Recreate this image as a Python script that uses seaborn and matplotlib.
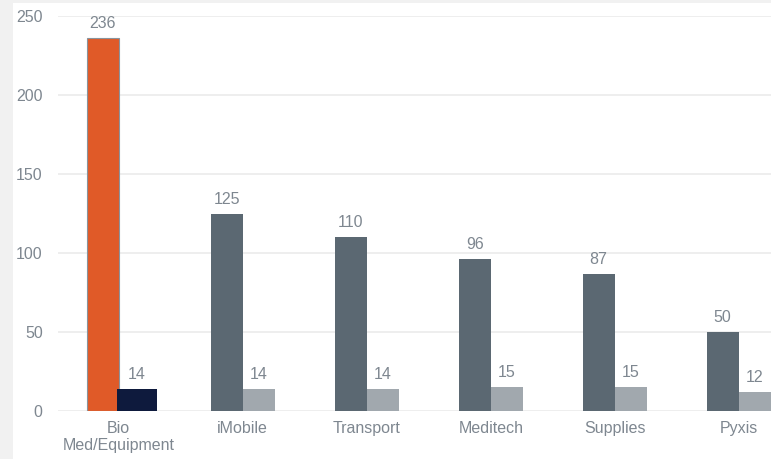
import matplotlib
matplotlib.use("Agg")
import matplotlib.pyplot as plt
import seaborn as sns
import pandas as pd
from matplotlib.patches import Rectangle

categories = ["Bio\nMed/Equipment", "iMobile", "Transport", "Meditech", "Supplies", "Pyxis"]
series_a = [236, 125, 110, 96, 87, 50]
series_b = [14, 14, 14, 15, 15, 12]
y_ticks = [0, 50, 100, 150, 200, 250]

dark = "#5b6872"
light = "#a1a8ae"
orange = "#e05a28"
navy = "#0e1a3d"
txt = "#7e8790"

df = pd.DataFrame({
    "cat": categories * 2,
    "value": series_a + series_b,
    "series": ["A"] * len(categories) + ["B"] * len(categories),
})

sns.set_theme(style="white")
plt.rcParams["font.family"] = ["Liberation Sans", "DejaVu Sans"]

fig = plt.figure(figsize=(7.71, 4.59), dpi=100)
fig.patch.set_facecolor("#f1f1f1")
fig.patches.append(Rectangle((13 / 771, 0), 1, 1 - 3 / 459, transform=fig.transFigure,
                             facecolor="white", edgecolor="none", zorder=-10))
ax = fig.add_axes([58 / 771, 1 - 411 / 459, 1 - 58 / 771, (411 - 16) / 459])
ax.set_facecolor("none")

sns.barplot(data=df, x="cat", y="value", hue="series", palette=[dark, light],
            width=0.52, dodge=True, saturation=1, legend=False, ax=ax, zorder=3,
            linewidth=0)

c0, c1 = ax.containers[0], ax.containers[1]
first = c0.patches[0]
first.set_facecolor(orange)
first.set_edgecolor("#8a939c")
first.set_linewidth(0.8)
nv = c1.patches[0]
nv.set_facecolor(navy)
nv.set_x(-0.016)
nv.set_width(0.322)
nv.set_zorder(4)

for c in (c0, c1):
    ax.bar_label(c, padding=5, color=txt, fontsize=11.5)

ax.set_ylim(0, 250)
ax.set_xlim(-0.49, 5.26)
ax.set_yticks(y_ticks)
ax.yaxis.grid(True, color="#ebebeb", linewidth=1.2, zorder=0)
ax.set_axisbelow(True)
for s in ax.spines.values():
    s.set_visible(False)
ax.tick_params(axis="both", length=0, colors=txt, labelsize=11.5)
ax.tick_params(axis="y", pad=11)
ax.tick_params(axis="x", pad=7)
ax.set_xlabel("")
ax.set_ylabel("")

fig.savefig("out.png", dpi=100, facecolor=fig.get_facecolor())
